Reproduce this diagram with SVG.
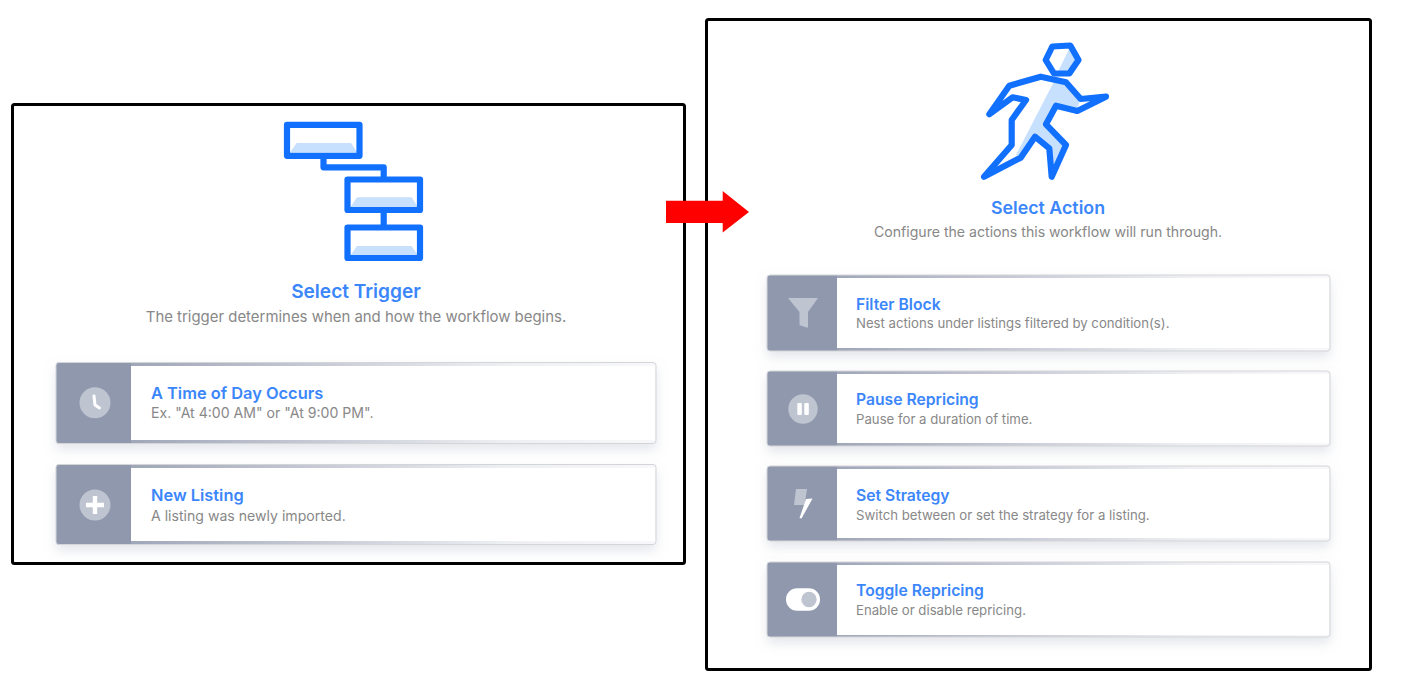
<svg xmlns="http://www.w3.org/2000/svg" width="1415" height="690" viewBox="0 0 1415 690">
<style>
text{font-family:Inter,"Noto Sans","Liberation Sans",sans-serif}
.frame{fill:#fff;stroke:#000;stroke-width:3}
.h{font-weight:600;fill:#3b86fb;text-anchor:middle}
.sub{fill:#888888;text-anchor:middle}
.t{font-weight:600;fill:#3b86fb}
.d{fill:#888888}
.outer{fill:url(#g);filter:url(#s)}
.border{fill:none;stroke:#d4d5d9;stroke-width:1}
.band{fill:#8f98ad}
.white{fill:#fff}
.ic{fill:#bfc4d1}
.w{fill:#fff}
.ln{fill:none;stroke:#1270ff;stroke-width:6.200;stroke-linejoin:round;stroke-linecap:round}
.lt{fill:#c6e0fd}
</style>
<defs>
<linearGradient id="g" x1="0" x2="1" y1="0" y2="0"><stop offset="0" stop-color="#8f98ad"/><stop offset=".35" stop-color="#bcc0cd"/><stop offset=".75" stop-color="#eeeff3"/><stop offset="1" stop-color="#f8f8fa"/></linearGradient>
<filter id="s" x="-5%" y="-20%" width="110%" height="150%"><feDropShadow dx="0" dy="6" stdDeviation="6" flood-color="#8f98ad" flood-opacity=".25"/></filter>
</defs>
<rect class="frame" x="12.500" y="104.500" width="672" height="459" rx="2"/>
<rect class="frame" x="706.500" y="19.500" width="664" height="650" rx="2"/>
<g id="trigger-icon">
<path class="lt" d="M290 152.500L296.700 143H351L357.300 152.500ZM350.500 207L357 197.300H411.500L418 207ZM350.500 255.300L357 246H411.500L418 255.300Z"/>
<path class="ln" d="M323.500 156V167.300H383.700V178M383.700 210V227"/>
<rect class="ln" x="287" y="124.800" width="72.500" height="31"/>
<rect class="ln" x="347.500" y="179.500" width="72.500" height="30.500"/>
<rect class="ln" x="347.500" y="227.500" width="72.500" height="30.500"/>
</g>
<g id="select-trigger"><text class="h" x="356" y="298" font-size="19.100">Select Trigger</text>
<text class="sub" x="356" y="322" font-size="14.930">The trigger determines when and how the workflow begins.</text></g>
<g id="card-time">
<rect class="outer" x="56" y="362.500" width="600" height="81" rx="3"/>
<path class="band" d="M59 362.500H131V443.500H59A3 3 0 0 1 56 440.500V365.500A3 3 0 0 1 59 362.500Z"/>
<rect class="white" x="131" y="366" width="524" height="74"/>
<rect class="border" x="56" y="362.500" width="600" height="81" rx="3"/>
<circle class="ic" cx="95" cy="402.700" r="15.500"/>
<path d="M94 396L95 405L99.500 408" fill="none" stroke="#fff" stroke-width="3" stroke-linecap="round" stroke-linejoin="round"/>
<text class="t" x="151" y="399" font-size="16.400">A Time of Day Occurs</text>
<text class="d" x="151" y="418" font-size="14.100">Ex. "At 4:00 AM" or "At 9:00 PM".</text>
</g>
<g id="card-listing">
<rect class="outer" x="56" y="464.500" width="600" height="80" rx="3"/>
<path class="band" d="M59 464.500H131V544.500H59A3 3 0 0 1 56 541.500V467.500A3 3 0 0 1 59 464.500Z"/>
<rect class="white" x="131" y="468" width="524" height="73"/>
<rect class="border" x="56" y="464.500" width="600" height="80" rx="3"/>
<circle class="ic" cx="95" cy="505" r="15.500"/>
<path class="w" d="M92.800 496H97.200V502.800H104V507.200H97.200V514H92.800V507.200H86V502.800H92.800Z"/>
<text class="t" x="151" y="501" font-size="16.400">New Listing</text>
<text class="d" x="151" y="521" font-size="14.100">A listing was newly imported.</text>
</g>
<path id="arrow" fill="#ff0000" d="M666 200.700H722.700V191L749 212L722.700 232.500V223H666Z"/>
<g id="action-icon">
<path class="lt" d="M1053 82L1070 47L1078 60L1069 73L1057 73ZM1053.500 82.500L1066 82.500L1080 99L1077 111L1056 106L1046 124L1066 145L1052 177L1049 148L1035 137L1021 158L1016 155Z"/>
<path class="ln" d="M1052.300 46.500L1070.300 45.500L1078.500 60L1069.300 73.500L1054 73.500L1045.700 60Z"/>
<path class="ln" d="M1040.700 76.700L1066 82.300L1080.700 99L1106 96.700L1077.300 111L1056 105.700L1046 124.300L1066 145L1051.700 176.700L1049.300 148.300L1035 136.700L1020.700 157.700L984 176.700L1011.700 145V120L1026 100L1012.700 97.300L989.300 114.300L1009.300 85.700Z"/>
</g>
<g id="select-action"><text class="h" x="1048" y="214" font-size="17.800">Select Action</text>
<text class="sub" x="1048" y="237" font-size="14.120">Configure the actions this workflow will run through.</text></g>
<g id="card-filter">
<rect class="outer" x="767" y="275" width="563" height="76" rx="3"/>
<path class="band" d="M770 275H837V351H770A3 3 0 0 1 767 348V278A3 3 0 0 1 770 275Z"/>
<rect class="white" x="837" y="278" width="492" height="70"/>
<rect class="border" x="767" y="275" width="563" height="76" rx="3"/>
<path class="ic" d="M788 298H818L808 312V326.500Q808 328 806.500 327.500L800.500 325.500Q799.500 325 799.500 324V312Z"/>
<text class="t" x="856" y="309.500" font-size="15.700">Filter Block</text>
<text class="d" x="856" y="328" font-size="13.200">Nest actions under listings filtered by condition(s).</text>
</g>
<g id="card-pause">
<rect class="outer" x="767" y="371" width="563" height="75" rx="3"/>
<path class="band" d="M770 371H837V446H770A3 3 0 0 1 767 443V374A3 3 0 0 1 770 371Z"/>
<rect class="white" x="837" y="374" width="492" height="69"/>
<rect class="border" x="767" y="371" width="563" height="75" rx="3"/>
<circle class="ic" cx="803" cy="409" r="14.700"/>
<rect class="w" x="797.300" y="403" width="4.500" height="12" rx="1"/><rect class="w" x="804.300" y="403" width="4.500" height="12" rx="1"/>
<text class="t" x="856" y="405" font-size="15.700">Pause Repricing</text>
<text class="d" x="856" y="424" font-size="13.200">Pause for a duration of time.</text>
</g>
<g id="card-strategy">
<rect class="outer" x="767" y="466" width="563" height="75" rx="3"/>
<path class="band" d="M770 466H837V541H770A3 3 0 0 1 767 538V469A3 3 0 0 1 770 466Z"/>
<rect class="white" x="837" y="469" width="492" height="69"/>
<rect class="border" x="767" y="466" width="563" height="75" rx="3"/>
<path class="ic" d="M796 489H807L804.500 505H794Z"/>
<path class="w" d="M806 499L812.500 498.500L801.500 518.500L799.500 518L804 505Z"/>
<text class="t" x="856" y="501" font-size="15.700">Set Strategy</text>
<text class="d" x="856" y="520" font-size="13.200">Switch between or set the strategy for a listing.</text>
</g>
<g id="card-toggle">
<rect class="outer" x="767" y="562" width="563" height="75" rx="3"/>
<path class="band" d="M770 562H837V637H770A3 3 0 0 1 767 634V565A3 3 0 0 1 770 562Z"/>
<rect class="white" x="837" y="565" width="492" height="70"/>
<rect class="border" x="767" y="562" width="563" height="75" rx="3"/>
<rect class="w" x="786" y="588.300" width="34" height="22.400" rx="11.200"/>
<circle class="ic" cx="809" cy="599.500" r="7.700"/>
<text class="t" x="856" y="596" font-size="15.700">Toggle Repricing</text>
<text class="d" x="856" y="615" font-size="13.200">Enable or disable repricing.</text>
</g>
</svg>
